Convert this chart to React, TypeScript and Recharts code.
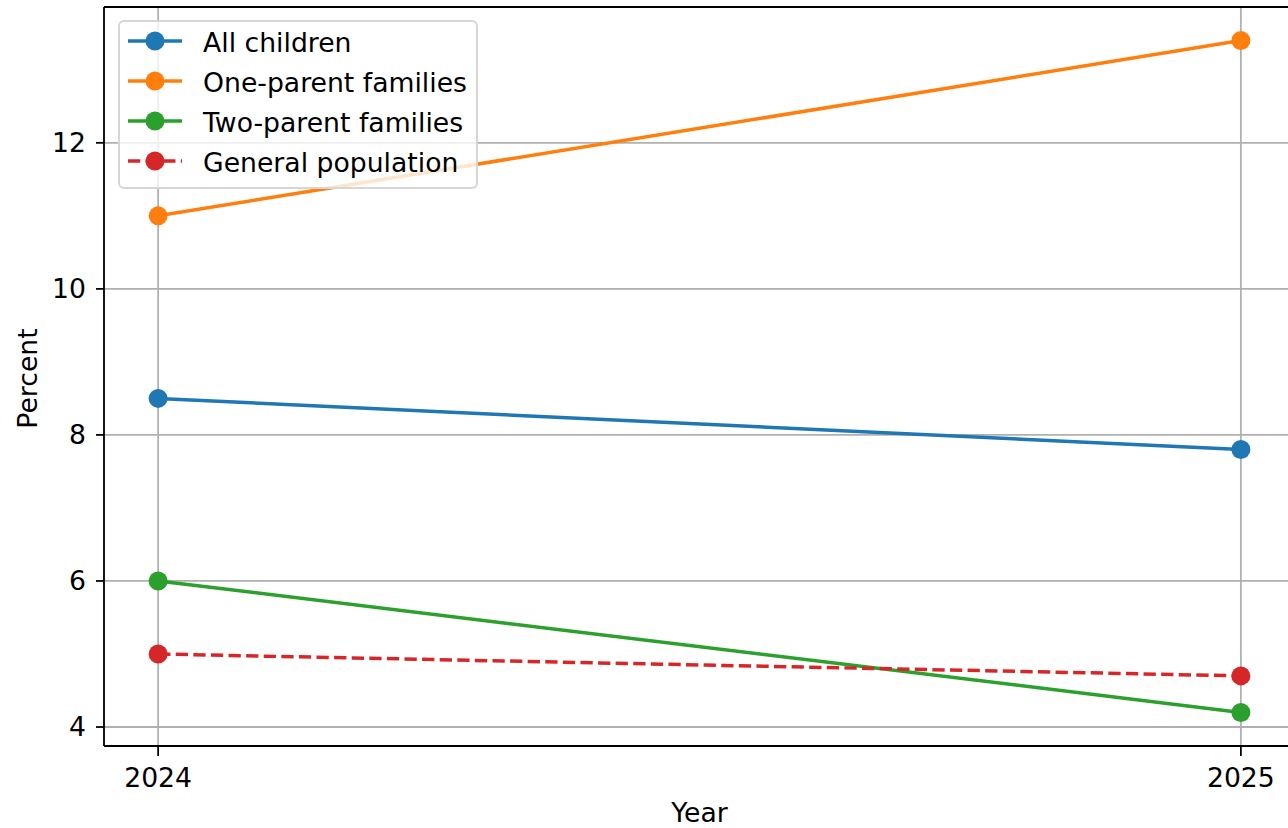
import { LineChart, Line, XAxis, YAxis, CartesianGrid, Legend, ReferenceLine } from 'recharts'

const years = [2024, 2025]
const allChildren = [8.5, 7.8]
const oneParent = [11.0, 13.4]
const twoParent = [6.0, 4.2]
const generalPopulation = [5.0, 4.7]
const yTicks = [4, 6, 8, 10, 12]

const series = [
  { key: 'allChildren', name: 'All children', color: '#1f77b4', values: allChildren, dashed: false },
  { key: 'oneParent', name: 'One-parent families', color: '#ff7f0e', values: oneParent, dashed: false },
  { key: 'twoParent', name: 'Two-parent families', color: '#2ca02c', values: twoParent, dashed: false },
  { key: 'general', name: 'General population', color: '#d62728', values: generalPopulation, dashed: true },
]

const chartData = years.map((year, i) => {
  const row: Record<string, number> = { year }
  series.forEach((s) => {
    row[s.key] = s.values[i]
  })
  return row
})

const FONT = '"DejaVu Sans", sans-serif'
const FS = 26.67
const LW = 3.5
const SPINE = 1.78
const DASH = '12.3 5.3'
const Y_DOMAIN: [number, number] = [3.74, 13.86]
const X_DOMAIN: [number, number] = [2023.95, 2025.05]

function LegendBox() {
  return (
    <div
      style={{
        width: 360,
        height: 169,
        boxSizing: 'border-box',
        border: '2px solid #d6d6d6',
        borderRadius: 6,
        background: 'rgba(255,255,255,0.8)',
      }}
    >
      <svg width={356} height={165} style={{ display: 'block', margin: 0 }}>
        {series.map((s, i) => {
          const cy = 19 + i * 40
          return (
            <g key={s.key}>
              <line
                x1={8}
                x2={62}
                y1={cy}
                y2={cy}
                stroke={s.color}
                strokeWidth={LW}
                strokeDasharray={s.dashed ? DASH : undefined}
              />
              <circle cx={35} cy={cy} r={9.5} fill={s.color} />
              <text x={83} y={cy + 11} fontSize={FS} fontFamily={FONT} fill="#000">
                {s.name}
              </text>
            </g>
          )
        })}
      </svg>
    </div>
  )
}

export default function App() {
  return (
    <div
      style={{
        position: 'absolute',
        left: 0,
        top: 0,
        width: 1288,
        height: 828,
        overflow: 'hidden',
        background: '#fff',
      }}
    >
      <LineChart
        width={1300}
        height={828}
        data={chartData}
        margin={{ top: 7, right: 5, bottom: 0, left: 0 }}
        style={{ fontFamily: FONT }}
      >
        <CartesianGrid stroke="#b0b0b0" strokeWidth={SPINE} />
        <XAxis
          dataKey="year"
          type="number"
          domain={X_DOMAIN}
          ticks={years}
          allowDataOverflow
          height={82}
          tickSize={10}
          tickMargin={12}
          axisLine={{ stroke: '#000', strokeWidth: SPINE }}
          tickLine={{ stroke: '#000', strokeWidth: SPINE }}
          tick={{ fill: '#000', fontSize: FS, fontFamily: FONT }}
          label={(props: any) => {
            const vb = props.viewBox || {}
            return (
              <text
                x={vb.x + vb.width / 2}
                y={822}
                textAnchor="middle"
                fontSize={FS}
                fontFamily={FONT}
                fill="#000"
              >
                Year
              </text>
            )
          }}
        />
        <YAxis
          type="number"
          domain={Y_DOMAIN}
          ticks={yTicks}
          allowDataOverflow
          width={104}
          tickSize={8}
          tickMargin={10}
          axisLine={{ stroke: '#000', strokeWidth: SPINE }}
          tickLine={{ stroke: '#000', strokeWidth: SPINE }}
          tick={{ fill: '#000', fontSize: FS, fontFamily: FONT }}
          label={(props: any) => {
            const vb = props.viewBox || {}
            const cy = vb.y + vb.height / 2 + 2
            return (
              <text
                x={37}
                y={cy}
                textAnchor="middle"
                transform={`rotate(-90, 37, ${cy})`}
                fontSize={FS}
                fontFamily={FONT}
                fill="#000"
              >
                Percent
              </text>
            )
          }}
        />
        {series.map((s) => (
          <Line
            key={s.key}
            dataKey={s.key}
            name={s.name}
            type="linear"
            stroke={s.color}
            strokeWidth={LW}
            strokeDasharray={s.dashed ? DASH : undefined}
            dot={{ r: 9.5, fill: s.color, stroke: 'none', strokeDasharray: '0' }}
            activeDot={false}
            isAnimationActive={false}
          />
        ))}
        <ReferenceLine y={Y_DOMAIN[1]} stroke="#000" strokeWidth={SPINE} />
        <ReferenceLine x={X_DOMAIN[1]} stroke="#000" strokeWidth={SPINE} />
        <Legend
          layout="horizontal"
          verticalAlign="middle"
          align="center"
          wrapperStyle={{ top: 20, left: 118, width: 360, height: 169 }}
          content={() => <LegendBox />}
        />
      </LineChart>
    </div>
  )
}
